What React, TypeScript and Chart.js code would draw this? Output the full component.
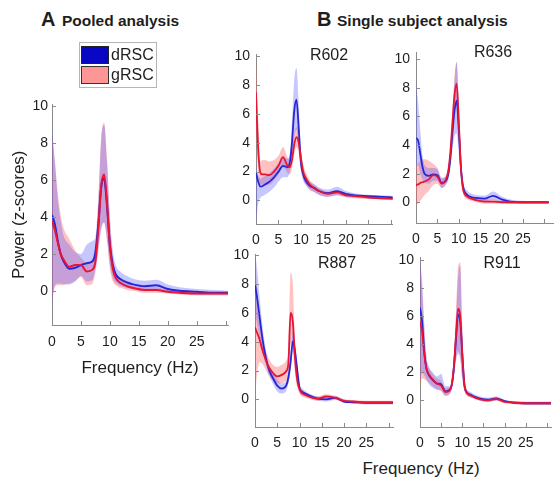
import React, { useEffect, useRef } from 'react';
import { Chart, registerables } from 'chart.js';

Chart.register(...registerables);

const FONT = '"Liberation Sans", Arial, Helvetica, sans-serif';
Chart.defaults.font.family = FONT;

// Frequency grid (Hz) shared by all panels
const FREQ = [0, 0.5, 1, 1.5, 2, 3, 4, 5, 6, 7, 7.5, 8, 8.5, 9, 9.5, 10, 10.5, 11, 12, 13, 14, 16, 18, 20, 22, 25, 28, 31];
const X_TICKS = [0, 5, 10, 15, 20, 25, 30];
const X_LABELS = ['0', '5', '10', '15', '20', '25', ''];
const Y_TICKS = [0, 2, 4, 6, 8, 10];

// Pooled analysis
const POOLED_D = [4.1, 3.6, 2.7, 2.0, 1.6, 1.2, 1.25, 1.4, 1.5, 1.6, 2.1, 3.6, 5.6, 6.1, 4.6, 2.5, 1.4, 0.9, 0.6, 0.45, 0.35, 0.25, 0.3, 0.1, 0.0, -0.05, -0.1, -0.1];
const POOLED_D_HI = [8.8, 7.0, 5.0, 3.8, 3.0, 2.5, 2.1, 2.0, 2.5, 2.7, 2.9, 5.0, 8.2, 9.0, 7.0, 4.0, 2.2, 1.4, 1.0, 0.8, 0.65, 0.55, 0.6, 0.35, 0.2, 0.1, 0.05, 0.0];
const POOLED_D_LO = [-0.7, 0.3, 0.4, 0.4, 0.35, 0.35, 0.5, 0.8, 0.5, 0.6, 1.2, 2.3, 3.4, 3.7, 2.8, 1.4, 0.7, 0.45, 0.25, 0.15, 0.1, 0.0, 0.05, -0.1, -0.15, -0.2, -0.2, -0.2];
const POOLED_G = [3.8, 3.3, 2.6, 2.0, 1.7, 1.3, 1.4, 1.4, 1.05, 1.15, 1.6, 3.4, 5.7, 6.3, 4.8, 2.4, 1.2, 0.7, 0.4, 0.25, 0.15, 0.05, 0.05, -0.05, -0.1, -0.15, -0.15, -0.15];
const POOLED_G_HI = [8.5, 7.0, 5.3, 4.1, 3.4, 2.8, 2.2, 1.8, 1.5, 1.7, 2.2, 4.8, 8.3, 9.1, 7.2, 3.8, 1.9, 1.0, 0.6, 0.45, 0.3, 0.2, 0.2, 0.05, 0.0, -0.05, -0.05, -0.05];
const POOLED_G_LO = [-0.5, 0.2, 0.3, 0.3, 0.35, 0.4, 0.55, 0.75, 0.3, 0.4, 1.0, 2.1, 3.3, 3.7, 2.7, 1.2, 0.5, 0.3, 0.15, 0.05, 0.0, -0.1, -0.1, -0.15, -0.2, -0.25, -0.25, -0.25];

// R602
const R602_D = [1.9, 1.3, 0.95, 1.0, 1.1, 1.3, 1.6, 2.0, 2.4, 2.3, 2.6, 4.0, 6.2, 7.0, 5.0, 2.6, 1.8, 1.4, 1.0, 0.85, 0.65, 0.5, 0.65, 0.45, 0.35, 0.3, 0.25, 0.2];
const R602_D_HI = [2.4, 1.8, 1.5, 1.6, 1.7, 1.9, 2.2, 2.6, 3.0, 2.9, 3.2, 5.5, 8.4, 9.2, 6.6, 3.0, 2.1, 1.7, 1.3, 1.1, 0.9, 0.75, 0.95, 0.65, 0.5, 0.4, 0.35, 0.3];
const R602_D_LO = [-1.5, -0.2, 0.2, 0.3, 0.4, 0.6, 0.9, 1.3, 1.6, 1.6, 2.0, 2.9, 4.4, 4.9, 3.5, 2.1, 1.4, 1.1, 0.75, 0.6, 0.4, 0.25, 0.35, 0.25, 0.2, 0.15, 0.1, 0.1];
const R602_G = [7.5, 3.5, 1.9, 1.8, 1.8, 1.75, 2.0, 2.4, 3.0, 2.4, 2.3, 2.8, 3.9, 4.4, 4.0, 2.9, 2.0, 1.6, 1.1, 0.85, 0.65, 0.45, 0.55, 0.35, 0.3, 0.2, 0.15, 0.1];
const R602_G_HI = [9.9, 5.5, 2.7, 2.8, 2.8, 2.7, 2.8, 3.1, 3.7, 3.0, 2.8, 3.5, 4.7, 5.1, 4.7, 3.5, 2.5, 2.0, 1.4, 1.1, 0.85, 0.6, 0.7, 0.5, 0.4, 0.3, 0.2, 0.15];
const R602_G_LO = [5.0, 1.8, 1.1, 1.1, 1.1, 1.1, 1.4, 1.8, 2.3, 1.9, 1.8, 2.2, 3.2, 3.7, 3.3, 2.2, 1.4, 1.1, 0.7, 0.55, 0.4, 0.25, 0.35, 0.2, 0.15, 0.1, 0.05, 0.0];

// R636
const R636_D = [4.5, 4.3, 3.4, 2.5, 2.0, 1.85, 1.95, 1.9, 1.35, 1.5, 1.9, 3.0, 4.8, 6.4, 7.1, 5.0, 2.4, 1.1, 0.5, 0.35, 0.3, 0.25, 0.45, 0.2, 0.05, 0.0, 0.0, 0.0];
const R636_D_HI = [8.2, 7.0, 5.0, 3.3, 2.6, 2.4, 2.4, 2.3, 1.7, 1.8, 2.3, 3.6, 6.0, 8.5, 9.8, 7.0, 3.2, 1.5, 0.8, 0.6, 0.5, 0.45, 0.75, 0.4, 0.2, 0.1, 0.05, 0.05];
const R636_D_LO = [2.5, 2.6, 2.0, 1.6, 1.4, 1.3, 1.5, 1.5, 1.0, 1.2, 1.5, 2.4, 3.7, 4.6, 4.8, 3.4, 1.7, 0.7, 0.3, 0.15, 0.1, 0.05, 0.15, 0.0, -0.1, -0.1, -0.1, -0.1];
const R636_G = [1.2, 1.25, 1.35, 1.4, 1.45, 1.6, 1.9, 1.8, 1.3, 1.6, 2.1, 3.4, 5.5, 7.5, 8.3, 5.6, 2.4, 0.9, 0.4, 0.25, 0.15, 0.05, 0.05, 0.0, 0.0, 0.0, 0.0, 0.0];
const R636_G_HI = [2.5, 2.7, 2.9, 3.0, 3.0, 2.9, 2.7, 2.4, 1.7, 1.9, 2.5, 3.9, 6.3, 8.8, 9.8, 6.8, 3.0, 1.2, 0.6, 0.4, 0.3, 0.2, 0.2, 0.1, 0.1, 0.05, 0.05, 0.05];
const R636_G_LO = [-0.2, -0.1, 0.1, 0.3, 0.5, 0.8, 1.2, 1.3, 1.0, 1.3, 1.7, 2.9, 4.7, 6.3, 7.0, 4.6, 1.9, 0.6, 0.2, 0.1, 0.0, -0.1, -0.1, -0.1, -0.1, -0.1, -0.1, -0.1];

// R887
const R887_D = [8.0, 7.0, 5.8, 4.6, 3.6, 2.2, 1.5, 0.95, 0.75, 0.95, 1.5, 2.6, 4.05, 3.3, 2.0, 0.8, 0.55, 0.45, 0.3, 0.15, 0.05, 0.0, 0.1, -0.15, -0.2, -0.25, -0.25, -0.25];
const R887_D_HI = [10.2, 9.0, 7.2, 5.6, 4.3, 2.6, 1.9, 1.4, 1.1, 1.3, 1.9, 3.2, 4.8, 4.0, 2.5, 1.1, 0.8, 0.65, 0.45, 0.3, 0.2, 0.15, 0.25, 0.0, -0.1, -0.15, -0.15, -0.15];
const R887_D_LO = [6.0, 5.2, 4.4, 3.6, 2.9, 1.8, 1.1, 0.55, 0.4, 0.6, 1.1, 2.0, 3.3, 2.6, 1.5, 0.5, 0.3, 0.25, 0.15, 0.0, -0.1, -0.15, -0.05, -0.25, -0.3, -0.35, -0.35, -0.35];
const R887_G = [5.0, 4.6, 4.2, 3.6, 3.1, 2.3, 1.85, 1.6, 1.7, 1.95, 2.5, 6.0, 5.4, 2.8, 1.3, 0.7, 0.45, 0.35, 0.2, 0.1, 0.05, 0.2, 0.1, -0.1, -0.15, -0.2, -0.2, -0.2];
const R887_G_HI = [10.0, 7.5, 5.5, 4.5, 3.8, 2.9, 2.4, 2.25, 2.4, 2.7, 3.5, 8.8, 8.0, 3.8, 1.8, 1.0, 0.7, 0.55, 0.35, 0.25, 0.2, 0.35, 0.25, 0.0, -0.05, -0.1, -0.1, -0.1];
const R887_G_LO = [0.4, 1.8, 2.6, 2.5, 2.3, 1.7, 1.3, 1.1, 1.1, 1.3, 1.6, 3.9, 3.5, 1.8, 0.8, 0.4, 0.2, 0.15, 0.05, -0.05, -0.1, 0.05, 0.0, -0.2, -0.25, -0.3, -0.3, -0.3];

// R911
const R911_D = [6.6, 5.6, 3.5, 2.3, 1.85, 1.45, 1.2, 1.15, 0.65, 0.75, 1.1, 2.3, 4.3, 6.1, 5.7, 3.2, 1.1, 0.6, 0.4, 0.25, 0.15, 0.05, 0.15, -0.05, -0.15, -0.2, -0.2, -0.2];
const R911_D_HI = [10.0, 8.5, 5.5, 3.2, 2.5, 2.0, 1.7, 1.9, 1.0, 1.0, 1.4, 3.0, 5.8, 8.8, 9.6, 5.0, 1.5, 0.85, 0.6, 0.4, 0.3, 0.2, 0.3, 0.05, -0.05, -0.1, -0.1, -0.1];
const R911_D_LO = [1.5, 2.0, 1.8, 1.5, 1.2, 0.9, 0.75, 0.7, 0.35, 0.45, 0.8, 1.6, 2.8, 3.3, 3.0, 1.6, 0.7, 0.4, 0.2, 0.1, 0.0, -0.1, 0.0, -0.15, -0.25, -0.3, -0.3, -0.3];
const R911_G = [5.6, 4.9, 3.3, 2.3, 1.9, 1.5, 1.2, 1.05, 0.6, 0.7, 1.1, 2.4, 4.6, 6.5, 6.0, 3.3, 1.1, 0.55, 0.35, 0.2, 0.1, 0.0, 0.1, -0.1, -0.15, -0.2, -0.2, -0.2];
const R911_G_HI = [10.0, 8.0, 5.2, 3.0, 2.4, 1.9, 1.55, 1.4, 0.9, 0.95, 1.4, 3.1, 6.2, 9.5, 9.8, 5.2, 1.5, 0.8, 0.5, 0.3, 0.2, 0.1, 0.2, 0.0, -0.05, -0.1, -0.1, -0.1];
const R911_G_LO = [0.9, 1.6, 1.5, 1.4, 1.3, 1.0, 0.8, 0.65, 0.3, 0.45, 0.8, 1.7, 3.0, 3.5, 3.1, 1.5, 0.7, 0.35, 0.2, 0.1, 0.0, -0.1, 0.0, -0.2, -0.25, -0.3, -0.3, -0.3];

const BLUE_LINE = 'rgb(38,38,212)';
const RED_LINE = 'rgb(232,20,52)';
const BLUE_BAND = 'rgba(95,95,255,0.35)';
const RED_BAND = 'rgba(255,85,85,0.36)';
const AXIS = '#8a8a8a';
const TEXT = '#1e1e1e';

const inwardTicks = {
  id: 'inwardTicks',
  afterDraw(chart: any) {
    const { ctx, chartArea: a, scales } = chart;
    const x = scales.x;
    const y = scales.y;
    ctx.save();
    ctx.strokeStyle = AXIS;
    ctx.lineWidth = 1;
    ctx.beginPath();
    x.ticks.forEach((t: any) => {
      const px = Math.round(x.getPixelForValue(t.value)) + 0.5;
      ctx.moveTo(px, a.bottom);
      ctx.lineTo(px, a.bottom - 4);
    });
    y.ticks.forEach((t: any) => {
      const py = Math.round(y.getPixelForValue(t.value)) + 0.5;
      ctx.moveTo(a.left, py);
      ctx.lineTo(a.left + 4, py);
    });
    ctx.stroke();
    ctx.restore();
  },
};

type Box = { l: number; t: number; w: number; h: number };
type Pad = { l: number; t: number; r: number; b: number };

type PanelProps = {
  d: number[]; dHi: number[]; dLo: number[];
  g: number[]; gHi: number[]; gLo: number[];
  box: Box; pad: Pad;
  yMin: number; yMax: number; xMax: number;
  big?: boolean;
};

function Panel(p: PanelProps) {
  const ref = useRef<HTMLCanvasElement>(null);
  const cw = p.pad.l + p.box.w + p.pad.r;
  const ch = p.pad.t + p.box.h + p.pad.b;
  useEffect(() => {
    const pts = (arr: number[]) => FREQ.map((f, i) => ({ x: f, y: arr[i] }));
    const band = (arr: number[], color: string, fill: any, order: number) => ({
      data: pts(arr),
      borderWidth: 0,
      pointRadius: 0,
      backgroundColor: color,
      borderColor: 'rgba(0,0,0,0)',
      fill,
      cubicInterpolationMode: 'monotone',
      order,
    });
    const line = (label: string, arr: number[], color: string, order: number) => ({
      label,
      data: pts(arr),
      borderColor: color,
      borderWidth: p.big ? 2 : 1.8,
      pointRadius: 0,
      fill: false,
      cubicInterpolationMode: 'monotone',
      order,
    });
    const chart = new Chart(ref.current as HTMLCanvasElement, {
      type: 'line',
      data: {
        datasets: [
          band(p.gHi, RED_BAND, '+1', 4),
          band(p.gLo, RED_BAND, false, 4),
          band(p.dHi, BLUE_BAND, '+1', 3),
          band(p.dLo, BLUE_BAND, false, 3),
          line('dRSC', p.d, BLUE_LINE, 1),
          line('gRSC', p.g, RED_LINE, 0),
        ] as any,
      },
      options: {
        animation: false,
        responsive: false,
        maintainAspectRatio: false,
        layout: { padding: { left: 0, top: p.pad.t, right: p.pad.r, bottom: 0 } },
        plugins: { legend: { display: false }, tooltip: { enabled: false } },
        scales: {
          x: {
            type: 'linear',
            min: 0,
            max: p.xMax,
            afterFit: (s: any) => { s.height = p.pad.b; },
            afterBuildTicks: (s: any) => { s.ticks = X_TICKS.map((v) => ({ value: v })); },
            grid: { display: false, drawTicks: false },
            border: { display: true, color: AXIS, width: 1 },
            ticks: {
              autoSkip: false,
              maxRotation: 0,
              padding: p.big ? 9 : 8,
              color: TEXT,
              font: { size: 14 },
              callback: (_v: any, i: number) => X_LABELS[i],
            },
            title: p.big
              ? { display: true, text: 'Frequency (Hz)', color: TEXT, font: { size: 17 }, padding: { top: 0, bottom: 1 } }
              : { display: false },
          },
          y: {
            type: 'linear',
            min: p.yMin,
            max: p.yMax,
            afterFit: (s: any) => { s.width = p.pad.l; },
            afterBuildTicks: (s: any) => { s.ticks = Y_TICKS.map((v) => ({ value: v })); },
            grid: { display: false, drawTicks: false },
            border: { display: true, color: AXIS, width: 1 },
            ticks: {
              autoSkip: false,
              padding: p.big ? 4 : 6,
              color: TEXT,
              font: { size: 14 },
              callback: (v: any) => String(v),
            },
            title: p.big
              ? { display: true, text: 'Power (z-scores)', color: TEXT, font: { size: 17 }, padding: { top: 9, bottom: 0 } }
              : { display: false },
          },
        },
      } as any,
      plugins: [inwardTicks],
    });
    return () => chart.destroy();
  }, []);
  return (
    <canvas
      ref={ref}
      width={cw}
      height={ch}
      style={{ position: 'absolute', left: p.box.l - p.pad.l, top: p.box.t - p.pad.t, width: cw, height: ch }}
    />
  );
}

const abs = (s: React.CSSProperties): React.CSSProperties => ({ position: 'absolute', whiteSpace: 'nowrap', fontFamily: FONT, color: TEXT, ...s });

function Centered({ x, y, size, text, bold }: { x: number; y: number; size: number; text: string; bold?: boolean }) {
  return (
    <div style={abs({ left: x - 100, top: y - size / 2, width: 200, textAlign: 'center', fontSize: size, lineHeight: `${size}px`, fontWeight: bold ? 700 : 400 })}>
      {text}
    </div>
  );
}

export default function App() {
  return (
    <div style={{ position: 'absolute', left: 0, top: 0, width: 555, height: 479, overflow: 'hidden', background: '#fff' }}>
      <Panel d={POOLED_D} dHi={POOLED_D_HI} dLo={POOLED_D_LO} g={POOLED_G} gHi={POOLED_G_HI} gLo={POOLED_G_LO}
        box={{ l: 52, t: 104, w: 176, h: 221 }} pad={{ l: 52, t: 12, r: 8, b: 55 }} yMin={-1.85} yMax={10.1} xMax={30.4} big />
      <Panel d={R602_D} dHi={R602_D_HI} dLo={R602_D_LO} g={R602_G} gHi={R602_G_HI} gLo={R602_G_LO}
        box={{ l: 256, t: 52, w: 137, h: 172 }} pad={{ l: 30, t: 12, r: 6, b: 26 }} yMin={-1.64} yMax={10.14} xMax={30.4} />
      <Panel d={R636_D} dHi={R636_D_HI} dLo={R636_D_LO} g={R636_G} gHi={R636_G_HI} gLo={R636_G_LO}
        box={{ l: 416, t: 50, w: 137, h: 173 }} pad={{ l: 30, t: 12, r: 2, b: 26 }} yMin={-1.45} yMax={10.48} xMax={32} />
      <Panel d={R887_D} dHi={R887_D_HI} dLo={R887_D_LO} g={R887_G} gHi={R887_G_HI} gLo={R887_G_LO}
        box={{ l: 255, t: 252, w: 138, h: 175 }} pad={{ l: 30, t: 12, r: 6, b: 26 }} yMin={-1.92} yMax={10.07} xMax={31} />
      <Panel d={R911_D} dHi={R911_D_HI} dLo={R911_D_LO} g={R911_G} gHi={R911_G_HI} gLo={R911_G_LO}
        box={{ l: 420, t: 255, w: 133, h: 172 }} pad={{ l: 30, t: 12, r: 2, b: 26 }} yMin={-1.89} yMax={10.17} xMax={31} />

      {/* Panel headings */}
      <div style={abs({ left: 41, top: 9, fontSize: 20, lineHeight: '20px', fontWeight: 700 })}>A</div>
      <div style={abs({ left: 62, top: 13, fontSize: 15.5, lineHeight: '15.5px', fontWeight: 700 })}>Pooled analysis</div>
      <div style={abs({ left: 317, top: 9, fontSize: 20, lineHeight: '20px', fontWeight: 700 })}>B</div>
      <div style={abs({ left: 337, top: 13, fontSize: 15.5, lineHeight: '15.5px', fontWeight: 700 })}>Single subject analysis</div>

      {/* Legend */}
      <div style={abs({ left: 79, top: 42, width: 76, height: 44, border: '1px solid #b5b5b5', background: '#fff' })} />
      <div style={abs({ left: 81, top: 46, width: 26, height: 16, background: 'rgb(8,8,196)', border: '1px solid #222' })} />
      <div style={abs({ left: 111, top: 46, fontSize: 16, lineHeight: '18px' })}>dRSC</div>
      <div style={abs({ left: 81, top: 66, width: 26, height: 16, background: 'rgb(255,150,150)', border: '1px solid #333' })} />
      <div style={abs({ left: 111, top: 66, fontSize: 16, lineHeight: '18px' })}>gRSC</div>

      {/* Subject labels */}
      <Centered x={329} y={55} size={16} text="R602" />
      <Centered x={493} y={52} size={16} text="R636" />
      <Centered x={337} y={263} size={16} text="R887" />
      <Centered x={502} y={263} size={16} text="R911" />

      {/* Shared x-axis title for B */}
      <Centered x={421} y={468} size={17} text="Frequency (Hz)" />
    </div>
  );
}
